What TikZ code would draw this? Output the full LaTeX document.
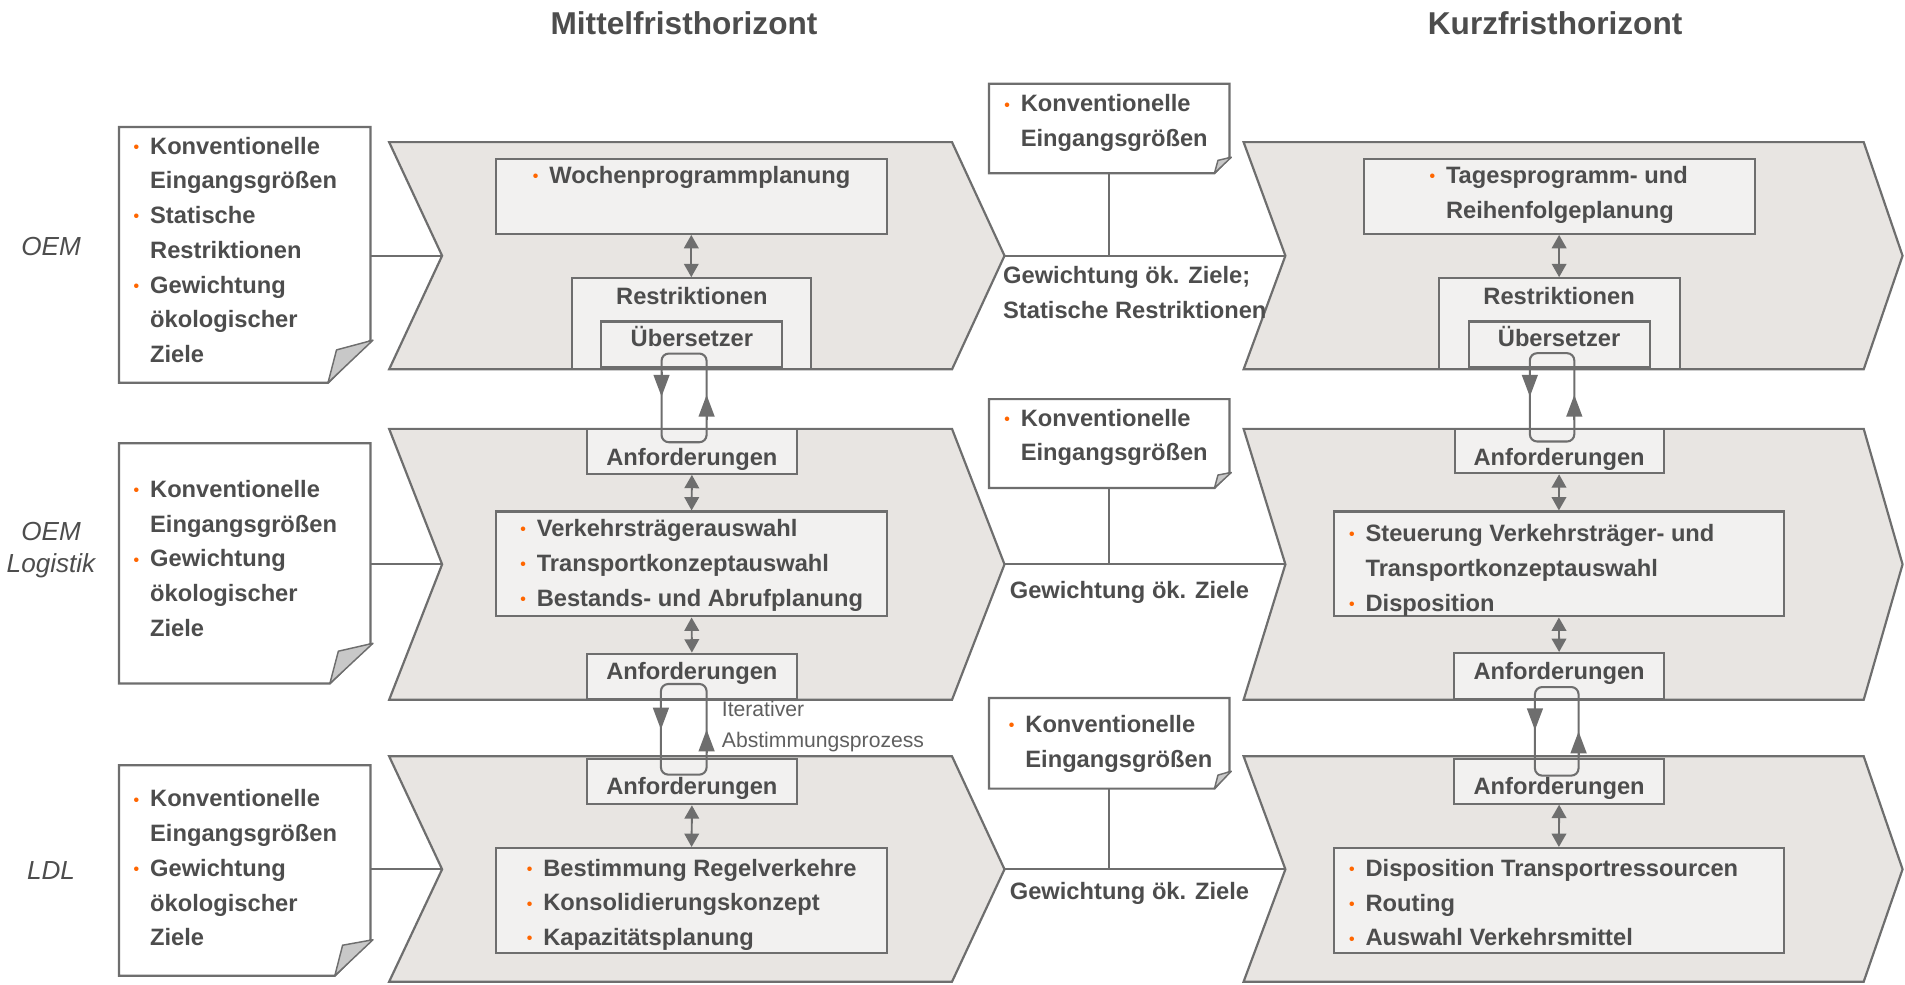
\documentclass[tikz,border=0pt]{standalone}
\usepackage{fontspec}
\setmainfont{Liberation Sans}
\usepackage{xcolor}
\usepackage{tikz}
\usetikzlibrary{arrows.meta}

\definecolor{chevfill}{HTML}{E8E5E2}
\definecolor{boxfill}{HTML}{F2F1F0}
\definecolor{linegray}{HTML}{6E6E6E}
\definecolor{txtgray}{HTML}{4D4D4D}
\definecolor{bulorange}{HTML}{FF6600}
\definecolor{foldgray}{HTML}{C8C8C8}

\newcommand{\bodyfont}{\bfseries\fontsize{19.5}{28.6}\selectfont}
\newcommand{\bul}{\llap{\textcolor{bulorange}{\raisebox{1.5pt}{\fontsize{13}{13}\selectfont\textbullet}}\hspace{9pt}}}

\tikzset{>={Triangle[length=11pt,width=12pt]}}
\tikzset{
  chev/.style={fill=chevfill, draw=linegray, line width=1.8pt},
  note/.style={fill=white, draw=linegray, line width=1.8pt},
  fold/.style={fill=foldgray, draw=linegray, line width=1.2pt, line join=round},
  inbox/.style={draw=linegray, fill=boxfill, line width=1.7pt, inner sep=0pt},
  link/.style={draw=linegray, line width=1.7pt},
  dbl/.style={draw=linegray, fill=linegray, line width=1.6pt, <->},
  cyc/.style={draw=linegray, line width=1.7pt, rounded corners=6pt},
  cyctip/.style={draw=linegray, fill=linegray, line width=1.7pt, -{Triangle[length=18pt,width=13pt]}},
  txt/.style={anchor=north west, inner sep=0pt, align=left, text=txtgray, font=\bodyfont},
  lbl/.style={anchor=base, inner sep=0pt, text=txtgray, font=\bodyfont},
  titel/.style={anchor=base, inner sep=0pt, text=txtgray, font=\bfseries\fontsize{26}{30}\selectfont},
  ebene/.style={anchor=base, inner sep=0pt, text=txtgray, font=\itshape\fontsize{21.5}{26.6}\selectfont},
  iter/.style={anchor=north west, inner sep=0pt, align=left, text=txtgray!90, font=\fontsize{17.4}{25.1}\selectfont}
}

\begin{document}
\begin{tikzpicture}[x=1pt,y=-1pt]
\useasboundingbox (0,0) rectangle (1568,810);

\node[titel] (mittel) at (563,28.8) {Mittelfristhorizont};
\node[titel] (kurz) at (1280,28.8) {Kurzfristhorizont};

\node[ebene] (oem) at (42,210) {OEM};
\node[ebene, anchor=north, align=center] (oemlog) at (42,426.2) {\strut OEM\\Logistik};
\node[ebene] (ldl) at (42,724) {LDL};

% tips and notches
\coordinate (m1in) at (363.9,210.5); \coordinate (m1out) at (826.8,210.5);
\coordinate (m2in) at (363.9,464.5); \coordinate (m2out) at (826.8,464.5);
\coordinate (m3in) at (363.9,715.5); \coordinate (m3out) at (826.8,715.5);
\coordinate (k1in) at (1058,210.5); \coordinate (k1out) at (1566,210.5);
\coordinate (k2in) at (1058,464.5); \coordinate (k2out) at (1566,464.5);
\coordinate (k3in) at (1058,715.5); \coordinate (k3out) at (1566,715.5);

% Mittelfrist chevrons
\filldraw[chev] (320.3,117)--(783.6,117)--(m1out)--(783.6,304)--(320.3,304)--(m1in)--cycle;
\filldraw[chev] (320.3,353)--(783.6,353)--(m2out)--(783.6,576)--(320.3,576)--(m2in)--cycle;
\filldraw[chev] (320.3,622.5)--(783.6,622.5)--(m3out)--(783.6,808)--(320.3,808)--(m3in)--cycle;

% Kurzfrist chevrons
\filldraw[chev] (1023.6,117)--(1534,117)--(k1out)--(1534,304)--(1023.6,304)--(k1in)--cycle;
\filldraw[chev] (1023.6,353)--(1534,353)--(k2out)--(1534,576)--(1023.6,576)--(k2in)--cycle;
\filldraw[chev] (1023.6,622.5)--(1534,622.5)--(k3out)--(1534,808)--(1023.6,808)--(k3in)--cycle;

% input notes left
\filldraw[note] (98,104.5)--(305,104.5)--(305,280)--(270,315)--(98,315)--cycle;
\filldraw[fold] (270,315)--(277,288)--(307,280)--cycle;
\filldraw[note] (98,364.8)--(305,364.8)--(305,529.5)--(271.5,562.6)--(98,562.6)--cycle;
\filldraw[fold] (271.5,562.6)--(278.5,536)--(307,529.5)--cycle;
\filldraw[note] (98,629.9)--(305,629.9)--(305,773.5)--(275.6,803.1)--(98,803.1)--cycle;
\filldraw[fold] (275.6,803.1)--(282,778)--(307,773.5)--cycle;
\coordinate (n1out) at (305,210.5);
\coordinate (n2out) at (305,464.5);
\coordinate (n3out) at (305,715.5);
\draw[link] (n1out)--(m1in);
\draw[link] (n2out)--(m2in);
\draw[link] (n3out)--(m3in);

% input notes middle
\filldraw[note] (814,69)--(1012,69)--(1012,129.4)--(999.6,142.6)--(814,142.6)--cycle;
\filldraw[fold] (999.6,142.6)--(1002.5,132)--(1013.5,129.4)--cycle;
\filldraw[note] (814,328.5)--(1012,328.5)--(1012,388.9)--(999.6,401.7)--(814,401.7)--cycle;
\filldraw[fold] (999.6,401.7)--(1002.5,391)--(1013.5,388.9)--cycle;
\filldraw[note] (814,574.5)--(1012,574.5)--(1012,634.8)--(999.6,649.1)--(814,649.1)--cycle;
\filldraw[fold] (999.6,649.1)--(1002.5,638)--(1013.5,634.8)--cycle;
\coordinate (e1out) at (913,142.6); \coordinate (e1join) at (913,210.5);
\coordinate (e2out) at (913,401.7); \coordinate (e2join) at (913,464.5);
\coordinate (e3out) at (913,649.1); \coordinate (e3join) at (913,715.5);
\draw[link] (m1out)--(k1in);
\draw[link] (m2out)--(k2in);
\draw[link] (m3out)--(k3in);
\draw[link] (e1out)--(e1join);
\draw[link] (e2out)--(e2join);
\draw[link] (e3out)--(e3join);

% inner boxes Mittelfrist
\node[inbox, minimum width=322pt, minimum height=61.7pt] (woche) at (569,161.65) {};
\node[inbox, minimum width=196.4pt, minimum height=75pt] (restr1) at (569,266.5) {};
\node[inbox, minimum width=149pt, minimum height=37.9pt] (ueb1) at (569,283.55) {};
\node[inbox, minimum width=173pt, minimum height=37pt] (anf1a) at (569.5,371.5) {};
\node[inbox, minimum width=321.5pt, minimum height=86.4pt] (verk) at (569.25,464.2) {};
\node[inbox, minimum width=173pt, minimum height=37pt] (anf1b) at (569.5,556.5) {};
\node[inbox, minimum width=173pt, minimum height=37pt] (anf1c) at (569.5,643.5) {};
\node[inbox, minimum width=321.5pt, minimum height=86.3pt] (best) at (569.25,741.15) {};

% inner boxes Kurzfrist
\node[inbox, minimum width=321.7pt, minimum height=61.7pt] (tages) at (1283.3,161.65) {};
\node[inbox, minimum width=198.2pt, minimum height=75pt] (restr2) at (1283.3,266.5) {};
\node[inbox, minimum width=148.9pt, minimum height=37.9pt] (ueb2) at (1283.3,283.55) {};
\node[inbox, minimum width=172pt, minimum height=36.5pt] (anf2a) at (1283.3,371.3) {};
\node[inbox, minimum width=370.8pt, minimum height=86.4pt] (steu) at (1283.1,464.2) {};
\node[inbox, minimum width=173pt, minimum height=37.5pt] (anf2b) at (1283.3,556.25) {};
\node[inbox, minimum width=173pt, minimum height=36.8pt] (anf2c) at (1283.3,643.1) {};
\node[inbox, minimum width=370.8pt, minimum height=86.3pt] (disp) at (1283.1,741.15) {};

% double arrows
\draw[dbl] (woche.south)--(restr1.north);
\draw[dbl] (anf1a.south)--(verk.north);
\draw[dbl] (verk.south)--(anf1b.north);
\draw[dbl] (anf1c.south)--(best.north);
\draw[dbl] (tages.south)--(restr2.north);
\draw[dbl] (anf2a.south)--(steu.north);
\draw[dbl] (steu.south)--(anf2b.north);
\draw[dbl] (anf2c.south)--(disp.north);

% iteration loops
\coordinate (l1a) at (544.5,291); \coordinate (l1b) at (581.6,364);
\coordinate (l2a) at (544,563); \coordinate (l2b) at (581.6,637.6);
\coordinate (l3a) at (1259.2,290.7); \coordinate (l3b) at (1295.8,363.4);
\coordinate (l4a) at (1263.4,565.5); \coordinate (l4b) at (1299.3,638.4);
\draw[cyc] (l1a) rectangle (l1b);
\draw[cyc] (l2a) rectangle (l2b);
\draw[cyc] (l3a) rectangle (l3b);
\draw[cyc] (l4a) rectangle (l4b);
\draw[cyctip] (544.5,306)--(544.5,326.5);
\draw[cyctip] (581.6,346)--(581.6,325);
\draw[cyctip] (544,580)--(544,600.5);
\draw[cyctip] (581.6,620)--(581.6,600.5);
\draw[cyctip] (1259.2,306)--(1259.2,326.5);
\draw[cyctip] (1295.8,346)--(1295.8,325);
\draw[cyctip] (1263.4,582)--(1263.4,601);
\draw[cyctip] (1299.3,622)--(1299.3,602);

% texts left notes
\node[txt] (n1txt) at (123.4,106.7) {\strut\bul Konventionelle\\Eingangsgrößen\\\bul Statische\\Restriktionen\\\bul Gewichtung\\ökologischer\\Ziele};
\node[txt] (n2txt) at (123.4,389.2) {\strut\bul Konventionelle\\Eingangsgrößen\\\bul Gewichtung\\ökologischer\\Ziele};
\node[txt] (n3txt) at (123.4,644) {\strut\bul Konventionelle\\Eingangsgrößen\\\bul Gewichtung\\ökologischer\\Ziele};

% texts middle notes
\node[txt] (e1txt) at (840,71.9) {\strut\bul Konventionelle\\Eingangsgrößen};
\node[txt] (e2txt) at (840,330.5) {\strut\bul Konventionelle\\Eingangsgrößen};
\node[txt] (e3txt) at (843.8,582.8) {\strut\bul Konventionelle\\Eingangsgrößen};
\node[txt] (g1txt) at (825.5,213) {\strut Gewichtung ök. Ziele;\\Statische Restriktionen};
\node[txt] (g2txt) at (831,472.2) {\strut Gewichtung ök. Ziele};
\node[txt] (g3txt) at (831,720) {\strut Gewichtung ök. Ziele};

% texts Mittelfrist
\node[txt] (wochetxt) at (452,131) {\strut\bul Wochenprogrammplanung};
\node[lbl] (restr1txt) at (569.5,251) {Restriktionen};
\node[lbl] (ueb1txt) at (569.5,285.2) {Übersetzer};
\node[lbl] (anf1atxt) at (569.5,383) {Anforderungen};
\node[txt] (verktxt) at (441.6,421.5) {\strut\bul Verkehrsträgerauswahl\\\bul Transportkonzeptauswahl\\\bul Bestands- und Abrufplanung};
\node[lbl] (anf1btxt) at (569.5,559) {Anforderungen};
\node[iter] (itertxt) at (594,572) {\strut Iterativer\\Abstimmungsprozess};
\node[lbl] (anf1ctxt) at (569.5,654) {Anforderungen};
\node[txt] (besttxt) at (447,701) {\strut\bul Bestimmung Regelverkehre\\\bul Konsolidierungskonzept\\\bul Kapazitätsplanung};

% texts Kurzfrist
\node[txt] (tagestxt) at (1190,130.8) {\strut\bul Tagesprogramm- und\\Reihenfolgeplanung};
\node[lbl] (restr2txt) at (1283.3,251) {Restriktionen};
\node[lbl] (ueb2txt) at (1283.3,285.2) {Übersetzer};
\node[lbl] (anf2atxt) at (1283.3,383) {Anforderungen};
\node[txt] (steutxt) at (1123.8,425.6) {\strut\bul Steuerung Verkehrsträger- und\\Transportkonzeptauswahl\\\bul Disposition};
\node[lbl] (anf2btxt) at (1283.3,559) {Anforderungen};
\node[lbl] (anf2ctxt) at (1283.3,654) {Anforderungen};
\node[txt] (disptxt) at (1123.8,701.2) {\strut\bul Disposition Transportressourcen\\\bul Routing\\\bul Auswahl Verkehrsmittel};

\end{tikzpicture}
\end{document}
